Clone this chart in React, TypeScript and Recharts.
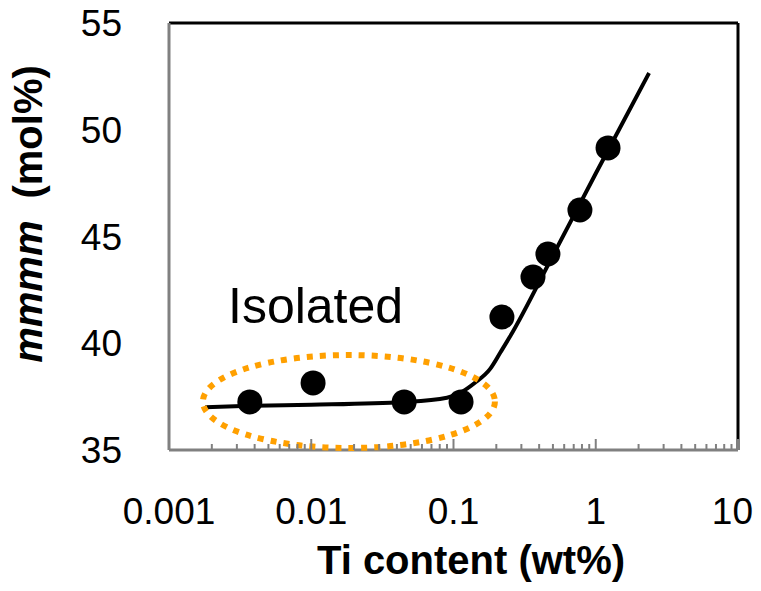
import React from "react";
import {
  ComposedChart,
  XAxis,
  YAxis,
  Line,
  Scatter,
  ReferenceLine,
  ReferenceDot,
  Customized,
} from "recharts";

// ---- data ----
const majorTicks = [0.001, 0.01, 0.1, 1, 10];
const minorMultipliers = [2, 3, 4, 5, 6, 7, 8, 9];
const yTicks = [35, 40, 45, 50, 55];

const tiContent = [0.0037, 0.0103, 0.045, 0.113, 0.219, 0.362, 0.461, 0.774, 1.22];
const mmmmValues = [37.25, 38.14, 37.25, 37.25, 41.23, 43.1, 44.18, 46.24, 49.15];

const fitTi = [0.0018, 0.0037, 0.01, 0.045, 0.09, 0.113, 0.1415, 0.181, 0.215, 0.249, 0.5, 1.0, 2.37];
const fitMmmm = [37.0, 37.07, 37.12, 37.25, 37.45, 37.7, 38.15, 38.8, 39.6, 40.3, 44.11, 47.95, 52.66];

// isolated-region ellipse centre (data coordinates)
const isolatedCenter = { x: 0.0184, y: 37.27 };

// ---- derived tables ----
const pointData = tiContent.map((x, i) => ({ x, y: mmmmValues[i] }));
const fitData = fitTi.map((x, i) => ({ x, y: fitMmmm[i] }));

const allTicks: number[] = [];
majorTicks.forEach((m, i) => {
  allTicks.push(m);
  if (i < majorTicks.length - 1) minorMultipliers.forEach((k) => allTicks.push(m * k));
});

const FONT = "'Liberation Sans', Arial, Helvetica, sans-serif";
const GRAY = "#808080";

const XTick = (props: any) => {
  const { x, y, payload } = props;
  const v = payload.value;
  const idx = majorTicks.findIndex((m) => Math.abs(Math.log10(v / m)) < 1e-6);
  const major = idx >= 0;
  const last = idx === majorTicks.length - 1;
  return (
    <g>
      <line x1={x} x2={x} y1={y} y2={y - (major ? 11 : 6)} stroke={GRAY} strokeWidth={2} />
      {major && (
        <text
          x={last ? x + 15 : x}
          y={y + 74}
          textAnchor={last ? "end" : "middle"}
          fontSize={37}
          fontFamily={FONT}
          fill="#000"
        >
          {String(majorTicks[idx])}
        </text>
      )}
    </g>
  );
};

const EllipseShape = (props: any) => {
  const { cx, cy } = props;
  return (
    <ellipse
      cx={cx}
      cy={cy}
      rx={146}
      ry={46.5}
      fill="none"
      stroke="#FFA000"
      strokeWidth={6}
      strokeDasharray="6 7"
    />
  );
};

const DotShape = (props: any) => {
  const { cx, cy } = props;
  return <circle cx={cx} cy={cy} r={12.5} fill="#000" />;
};

const Texts = () => (
  <g>
    <text x={228} y={323} fontSize={50} fontFamily={FONT} fill="#000">
      Isolated
    </text>
    <text x={471} y={574} fontSize={40} fontWeight="bold" fontFamily={FONT} fill="#000" textAnchor="middle">
      Ti content (wt%)
    </text>
    <g transform="translate(42,214) rotate(-90)">
      <text x={0} y={0} fontSize={40} fontWeight="bold" fontFamily={FONT} fill="#000" textAnchor="middle">
        <tspan fontStyle="italic">mmmm</tspan>
        <tspan dx={22}>(mol%)</tspan>
      </text>
    </g>
  </g>
);

export default function App() {
  return (
    <div style={{ width: 761, height: 591, margin: "-8px -8px -8px -8px" }}>
      <ComposedChart width={761} height={591} margin={{ top: 23, right: 23, left: 0, bottom: 0 }}>
        <XAxis
          dataKey="x"
          type="number"
          scale="log"
          domain={[0.001, 10]}
          allowDataOverflow
          ticks={allTicks}
          interval={0}
          tick={<XTick />}
          tickLine={false}
          tickSize={0}
          tickMargin={0}
          height={141}
          axisLine={{ stroke: GRAY, strokeWidth: 3 }}
        />
        <YAxis
          dataKey="y"
          type="number"
          domain={[35, 55]}
          ticks={yTicks}
          interval={0}
          width={169}
          tickLine={false}
          tickSize={0}
          tickMargin={47}
          tick={{ fontSize: 37, fontFamily: FONT, fill: "#000" }}
          axisLine={{ stroke: GRAY, strokeWidth: 3 }}
        />
        <ReferenceLine y={55} stroke="#000" strokeWidth={3} />
        <ReferenceLine x={10} stroke="#000" strokeWidth={3} />
        <ReferenceDot x={isolatedCenter.x} y={isolatedCenter.y} shape={<EllipseShape />} />
        <Line
          data={fitData}
          dataKey="y"
          type="monotone"
          stroke="#000"
          strokeWidth={4}
          dot={false}
          activeDot={false}
          isAnimationActive={false}
        />
        <Scatter data={pointData} dataKey="y" shape={<DotShape />} isAnimationActive={false} />
        <Customized component={Texts} />
      </ComposedChart>
    </div>
  );
}
